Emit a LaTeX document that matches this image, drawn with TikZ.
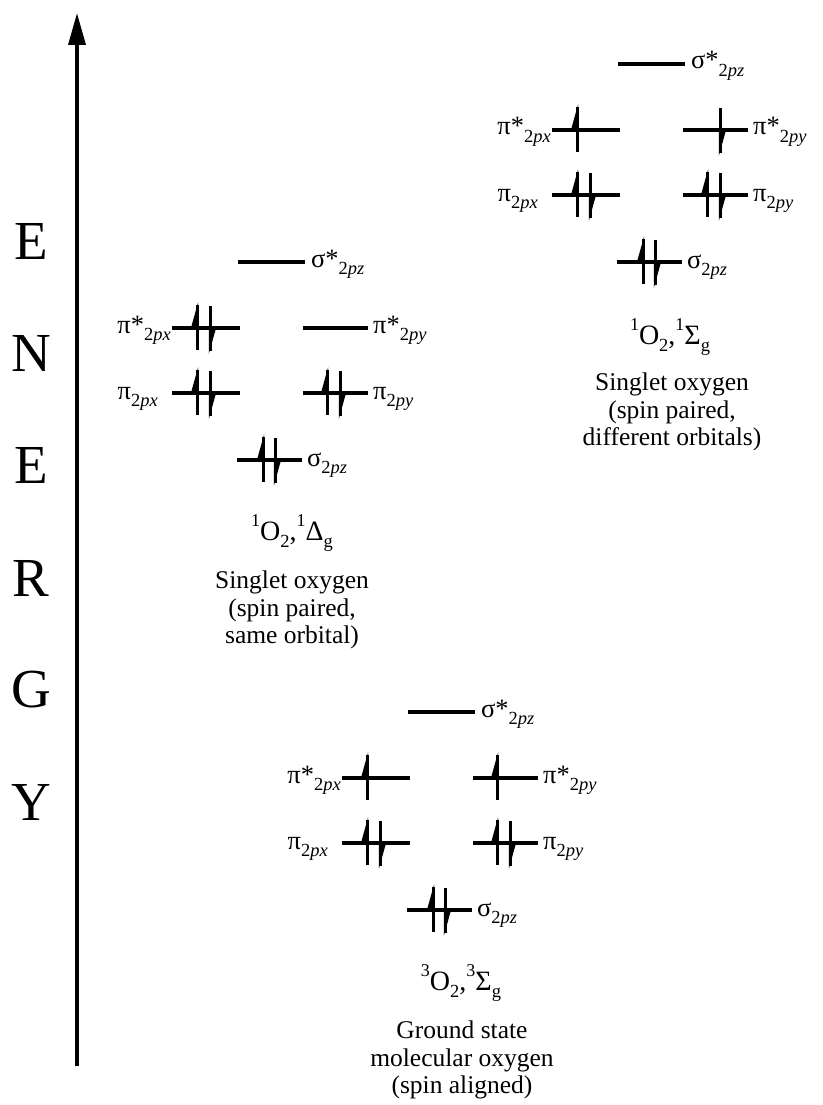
\documentclass[tikz,border=0pt]{standalone}
\usepackage{fontspec}
\setmainfont{Liberation Serif}
\usetikzlibrary{arrows.meta}
\newcommand{\sbs}[1]{\raisebox{-0.28em}{\fontsize{18.5}{18.5}\selectfont #1}}
\newcommand{\sps}[1]{\raisebox{0.5em}{\fontsize{18}{18}\selectfont #1}}
\newcommand{\eup}[2]{\draw[shaft] (#1,#2+22) -- (#1,#2-23); \fill (#1+1.2,#2-26) -- (#1-5.5,#2-2) -- (#1+1.2,#2-2) -- cycle;}
\newcommand{\edn}[2]{\draw[shaft] (#1,#2-22) -- (#1,#2+23); \fill (#1-1.2,#2+26) -- (#1+5.5,#2+2) -- (#1-1.2,#2+2) -- cycle;}
\newcommand{\levels}[1]{%
  \draw[lev] (408,712) -- (475,712);
  \draw[lev] (342,778) -- (410,778);
  \draw[lev] (473,778) -- (538,778);
  \draw[lev] (342,843) -- (410,843);
  \draw[lev] (473,843) -- (538,843);
  \draw[lev] (407,910) -- (472,910);
  \node[lab,anchor=base west] (#1-ss) at (481,717) {σ*\sbs{2\textit{pz}}};
  \node[lab,anchor=base east] (#1-psx) at (341,783) {π*\sbs{2\textit{px}}};
  \node[lab,anchor=base west] (#1-psy) at (543,783) {π*\sbs{2\textit{py}}};
  \node[lab,anchor=base east] (#1-px) at (328,849) {π\sbs{2\textit{px}}};
  \node[lab,anchor=base west] (#1-py) at (543,849) {π\sbs{2\textit{py}}};
  \node[lab,anchor=base west] (#1-s) at (477,916) {σ\sbs{2\textit{pz}}};
  \eup{367}{843}\edn{380}{843}\eup{497}{843}\edn{510}{843}
  \eup{433}{910}\edn{445}{910}
}
\begin{document}
\begin{tikzpicture}[x=1pt,y=-1pt,
  lev/.style={line width=3.2pt},
  shaft/.style={line width=3pt},
  lab/.style={inner sep=0pt,font=\fontsize{26.5}{28}\selectfont},
  term/.style={inner sep=0pt,font=\fontsize{28}{30}\selectfont},
  desc/.style={inner sep=0pt,align=center,font=\fontsize{25.5}{27.5}\selectfont},
  letter/.style={inner sep=0pt,font=\fontsize{55}{55}\selectfont}]
\fill[white] (0,0) rectangle (822,1105);
\useasboundingbox (0,0) rectangle (822,1105);
% energy axis
\coordinate (ax0) at (77,1066);
\coordinate (ax1) at (77,13);
\draw[line width=3.4pt,-{Triangle[length=32pt,width=17pt]}] (ax0) -- (ax1);
\node[letter] (L1) at (31,241) {E};
\node[letter] (L2) at (31,353) {N};
\node[letter] (L3) at (31,465) {E};
\node[letter] (L4) at (31,578) {R};
\node[letter] (L5) at (31,690) {G};
\node[letter] (L6) at (31,802) {Y};
% ground state
\begin{scope}
  \levels{G}
  \eup{367}{778}\eup{497}{778}
  \node[term] (G-t) at (461,983) {\sps{3}O\sbs{2},\sps{3}Σ\sbs{g}};
  \node[desc] (G-d) at (462,1060) {Ground state\\molecular oxygen\\(spin aligned)};
\end{scope}
% singlet delta
\begin{scope}[shift={(-170,-450)}]
  \levels{D}
  \eup{367}{778}\edn{380}{778}
  \node[term] (D-t) at (462,983) {\sps{1}O\sbs{2},\sps{1}Δ\sbs{g}};
  \node[desc] (D-d) at (462,1060) {Singlet oxygen\\(spin paired,\\same orbital)};
\end{scope}
% singlet sigma
\begin{scope}[shift={(210,-648)}]
  \levels{S}
  \eup{367}{778}\edn{510}{778}
  \node[term] (S-t) at (460,985) {\sps{1}O\sbs{2},\sps{1}Σ\sbs{g}};
  \node[desc] (S-d) at (462,1060) {Singlet oxygen\\(spin paired,\\different orbitals)};
\end{scope}
\end{tikzpicture}
\end{document}
